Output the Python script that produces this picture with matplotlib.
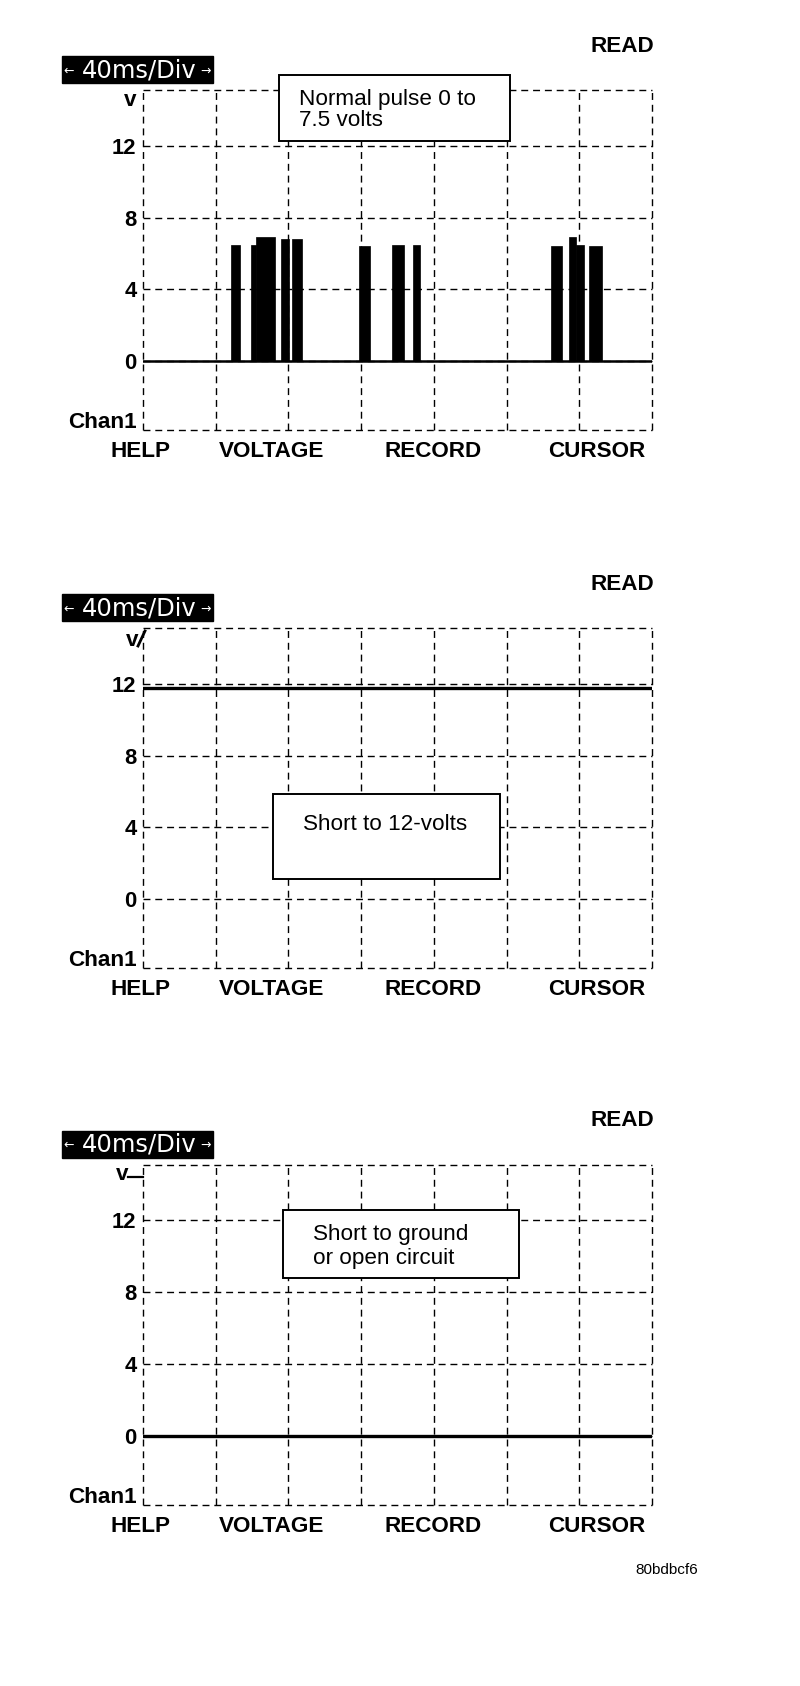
import matplotlib
matplotlib.use("Agg")
import matplotlib.pyplot as plt
from matplotlib.patches import Rectangle
from matplotlib.lines import Line2D

# ---------------- data ----------------
time_div_ms = 40
n_div = 7
volt_ticks = [0, 4, 8, 12]
volt_tick_labels = ["0", "4", "8", "12"]
y_range = (-3.82, 15.1)

# panel 1: normal injector pulses (start ms, end ms, volts)
pulse_start_ms = [48.3, 59.5, 62.3, 75.7, 81.8, 118.9, 137.1, 148.5, 224.6, 234.5, 238.3, 245.6]
pulse_end_ms = [53.4, 62.3, 72.7, 80.4, 87.6, 124.9, 143.5, 152.5, 230.3, 238.3, 242.8, 252.6]
pulse_volts = [6.5, 6.5, 6.9, 6.8, 6.8, 6.4, 6.5, 6.5, 6.4, 6.9, 6.5, 6.4]
baseline_volts = 0.0

# panel 2 and 3 flat traces
short12_volts = 11.75
ground_volts = 0.0

softkeys = ["HELP", "VOLTAGE", "RECORD", "CURSOR"]
notes = [["Normal pulse 0 to", "7.5 volts"], ["Short to 12-volts"], ["Short to ground", "or open circuit"]]
timebase_label = "40ms/Div"
mode_label = "READ"
chan_label = "Chan1"
footer = "80bdbcf6"

# ---------------- layout helpers ----------------
W, H = 800, 1686
fig = plt.figure(figsize=(W / 100, H / 100), dpi=100)
fig.patch.set_facecolor("white")

def fx(px):
    return px / W

def fy(py):
    return 1 - py / H

FONT = ["Liberation Sans", "DejaVu Sans"]
BOLD = dict(family=FONT, fontweight="bold", fontsize=16.2, color="black")
REG = dict(family=FONT, fontsize=16.2, color="black")

LEFT, RIGHT = 143, 652
PANEL_H = 340
tops = [90, 628, 1164.5]
softkey_x = [141, 272, 433, 597]
dash = (0, (5, 3.5))

for i, T in enumerate(tops):
    ax = fig.add_axes([fx(LEFT), fy(T + PANEL_H), (RIGHT - LEFT) / W, PANEL_H / H])
    xmax = time_div_ms * n_div
    ax.set_xlim(0, xmax)
    ax.set_ylim(*y_range)
    for s in ax.spines.values():
        s.set_visible(False)
    ax.set_xticks([])
    ax.set_yticks(volt_ticks)
    ax.set_yticklabels(volt_tick_labels, fontdict=dict(family=FONT, fontweight="bold", fontsize=15.8))
    ax.tick_params(axis="y", length=0, pad=4.7)
    ax.set_facecolor("none")

    # dashed graticule (including frame)
    for k in range(n_div + 1):
        ax.axvline(k * time_div_ms, color="black", lw=1.0, ls=dash, clip_on=False, zorder=1)
    for v in volt_ticks + list(y_range):
        ax.axhline(v, color="black", lw=1.0, ls=dash, clip_on=False, zorder=1)

    # traces
    if i == 0:
        ax.plot([0, xmax], [baseline_volts, baseline_volts], color="black", lw=1.8, zorder=3)
        widths = [e - s for s, e in zip(pulse_start_ms, pulse_end_ms)]
        ax.bar(pulse_start_ms, pulse_volts, width=widths, bottom=baseline_volts,
               align="edge", color="black", edgecolor="black", lw=0.5, zorder=3)
    elif i == 1:
        ax.plot([0, xmax], [short12_volts, short12_volts], color="black", lw=2.4, zorder=3)
    else:
        ax.plot([0, xmax], [ground_volts, ground_volts], color="black", lw=2.4, zorder=3)

    # READ
    fig.text(fx(654), fy(T - 44), mode_label, ha="right", va="center", **BOLD)

    # timebase black label
    fig.patches.append(Rectangle((fx(62), fy(T - 7)), (213 - 62) / W, 27 / H,
                                 transform=fig.transFigure, facecolor="black",
                                 edgecolor="black", zorder=2))
    fig.text(fx(139), fy(T - 20), timebase_label, ha="center", va="center",
             family=["DejaVu Sans"], fontsize=17.5, color="white", zorder=3)
    fig.text(fx(69), fy(T - 19), "\u2190", ha="center", va="center",
             family=["DejaVu Sans"], fontsize=9, color="white", zorder=3)
    fig.text(fx(206), fy(T - 19), "\u2192", ha="center", va="center",
             family=["DejaVu Sans"], fontsize=9, color="white", zorder=3)

    # v / Chan1 labels
    if i == 0:
        fig.text(fx(136), fy(T + 11), "v", ha="right", va="center", **BOLD)
    elif i == 1:
        fig.text(fx(138), fy(T + 12), "v", ha="right", va="center", **BOLD)
        fig.lines.append(Line2D([fx(138), fx(145)], [fy(T + 18), fy(T + 3)],
                                transform=fig.transFigure, color="black", lw=2))
    else:
        fig.text(fx(128), fy(T + 10), "v", ha="right", va="center", **BOLD)
        fig.lines.append(Line2D([fx(128), fx(143)], [fy(T + 12), fy(T + 12)],
                                transform=fig.transFigure, color="black", lw=1.6))
    fig.text(fx(137), fy(T + 333), chan_label, ha="right", va="center", **BOLD)

    # softkeys
    for lab, x in zip(softkeys, softkey_x):
        fig.text(fx(x), fy(T + 361.5), lab, ha="center", va="center", **BOLD)

    # note boxes
    if i == 0:
        bx0, bx1, by0, by1 = 279, 510, T - 15, T + 51
        fig.patches.append(Rectangle((fx(bx0), fy(by1)), (bx1 - bx0) / W, (by1 - by0) / H,
                                     transform=fig.transFigure, facecolor="white",
                                     edgecolor="black", lw=1.4, zorder=2))
        fig.text(fx(299), fy(T + 9), notes[0][0], ha="left", va="center", zorder=3, **REG)
        fig.text(fx(299), fy(T + 30), notes[0][1], ha="left", va="center", zorder=3, **REG)
    elif i == 1:
        bx0, bx1, by0, by1 = 273, 500, T + 166, T + 251
        fig.patches.append(Rectangle((fx(bx0), fy(by1)), (bx1 - bx0) / W, (by1 - by0) / H,
                                     transform=fig.transFigure, facecolor="white",
                                     edgecolor="black", lw=1.4, zorder=2))
        fig.text(fx(385), fy(T + 197), notes[1][0], ha="center", va="center", zorder=3, **REG)
    else:
        bx0, bx1, by0, by1 = 283, 519, T + 45.5, T + 113.5
        fig.patches.append(Rectangle((fx(bx0), fy(by1)), (bx1 - bx0) / W, (by1 - by0) / H,
                                     transform=fig.transFigure, facecolor="white",
                                     edgecolor="black", lw=1.4, zorder=2))
        fig.text(fx(313), fy(T + 70), notes[2][0], ha="left", va="center", zorder=3, **REG)
        fig.text(fx(313), fy(T + 94), notes[2][1], ha="left", va="center", zorder=3, **REG)

fig.text(fx(667), fy(1570), footer, ha="center", va="center", family=FONT, fontsize=11)

fig.savefig("out.png", dpi=100, facecolor="white")
